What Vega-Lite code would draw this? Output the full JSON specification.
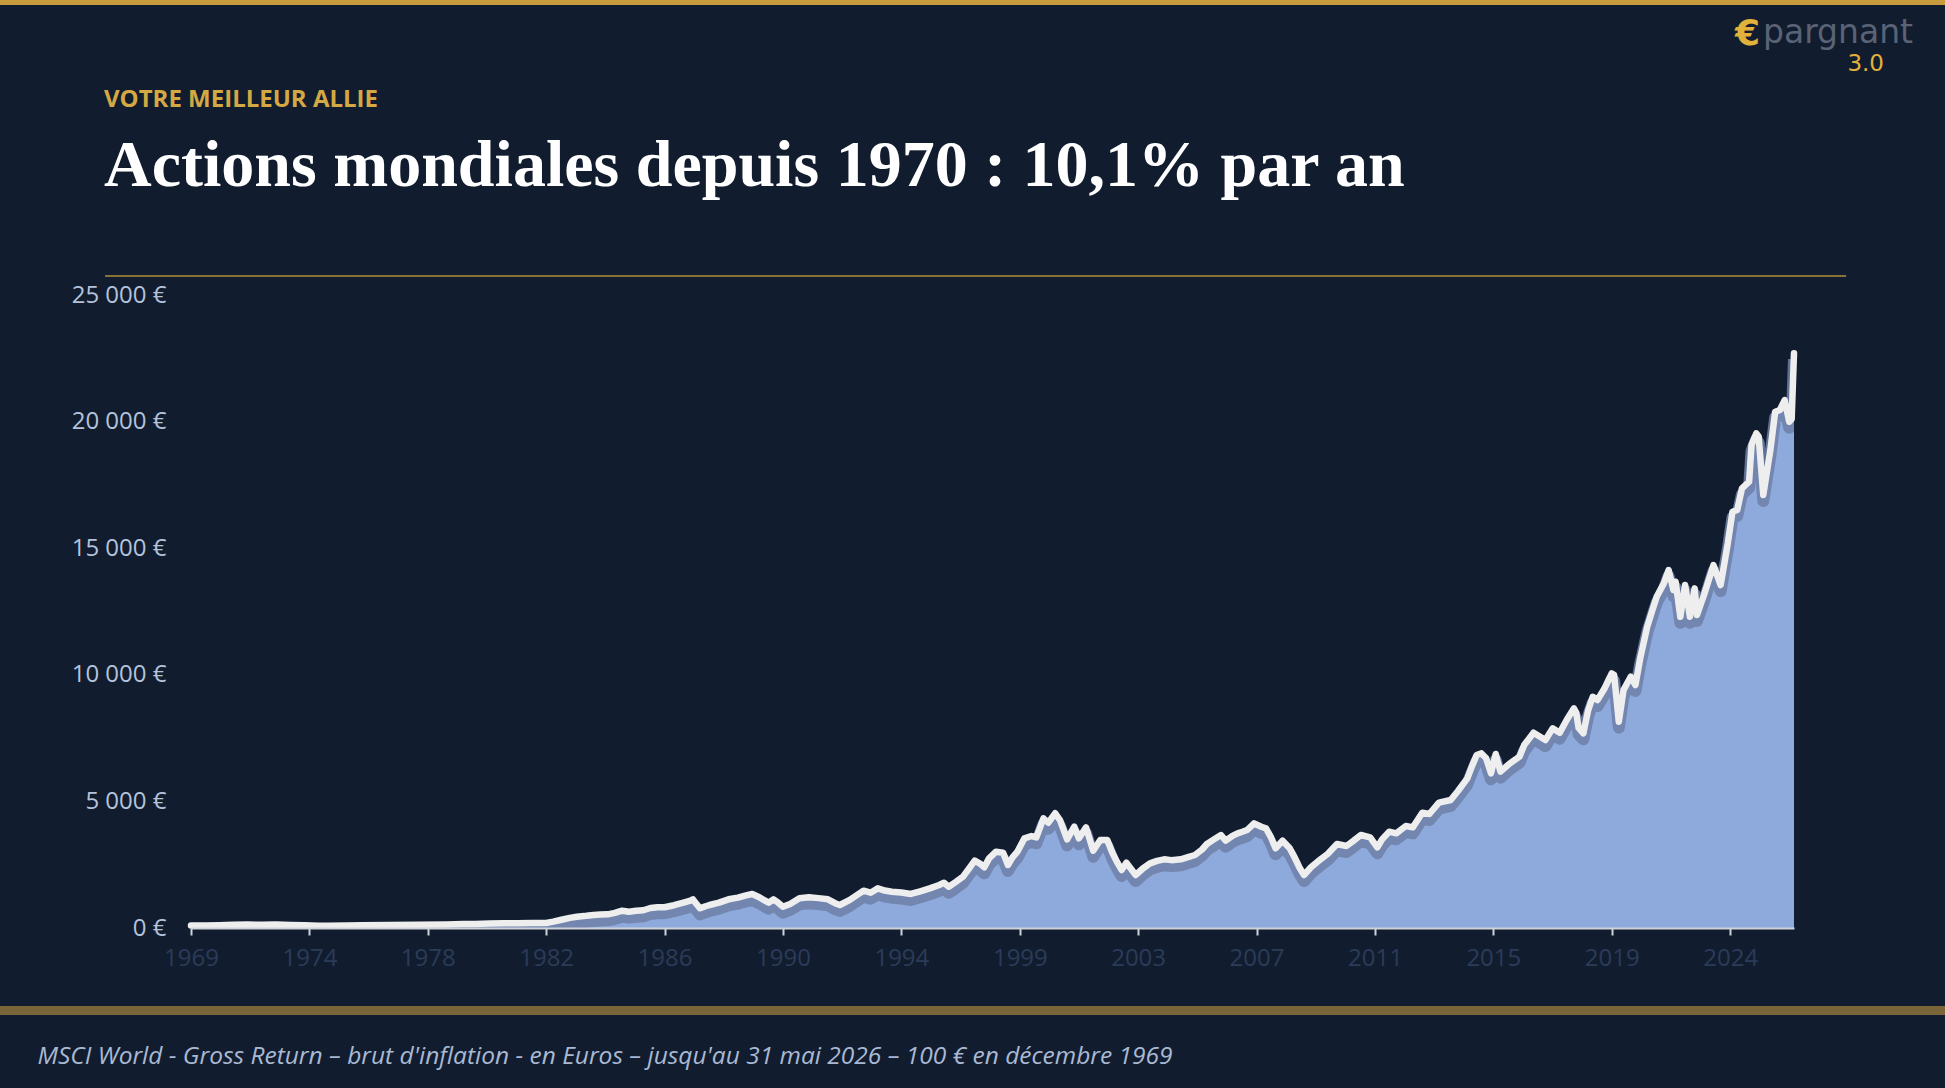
{
  "$schema": "https://vega.github.io/schema/vega-lite/v6.json",
  "width": 1603,
  "height": 633,
  "autosize": {"type": "none"},
  "padding": {"left": 191, "top": 295, "right": 151, "bottom": 160},
  "background": "#111d2f",
  "config": {"view": {"stroke": null}},
  "title": {
    "text": "VOTRE MEILLEUR ALLIE",
    "subtitle": "Actions mondiales depuis 1970 : 10,1% par an",
    "anchor": "start",
    "frame": "group",
    "dx": -87,
    "offset": -200,
    "color": "#d4a843",
    "font": "Open Sans",
    "fontSize": 24,
    "fontWeight": "bold",
    "subtitleColor": "#ffffff",
    "subtitleFont": "Liberation Serif",
    "subtitleFontSize": 66,
    "subtitleFontWeight": "bold",
    "subtitlePadding": 22
  },
  "layer": [
    {
      "data": {
        "values": [
          {"date": "1969-12-01", "value": 100},
          {"date": "1970-06-01", "value": 95},
          {"date": "1970-12-01", "value": 110},
          {"date": "1971-06-01", "value": 125},
          {"date": "1971-12-01", "value": 135},
          {"date": "1972-06-01", "value": 130},
          {"date": "1972-12-01", "value": 140},
          {"date": "1973-06-01", "value": 120},
          {"date": "1973-12-01", "value": 110},
          {"date": "1974-06-01", "value": 90},
          {"date": "1974-10-01", "value": 85},
          {"date": "1975-06-01", "value": 100},
          {"date": "1975-12-01", "value": 105},
          {"date": "1976-12-01", "value": 120},
          {"date": "1977-12-01", "value": 125},
          {"date": "1978-12-01", "value": 135},
          {"date": "1979-07-01", "value": 155},
          {"date": "1979-12-01", "value": 160},
          {"date": "1980-06-01", "value": 175},
          {"date": "1980-12-01", "value": 185},
          {"date": "1981-06-01", "value": 190},
          {"date": "1981-12-01", "value": 195},
          {"date": "1982-06-01", "value": 200},
          {"date": "1982-09-01", "value": 250},
          {"date": "1982-12-01", "value": 316},
          {"date": "1983-04-01", "value": 400},
          {"date": "1983-07-01", "value": 447},
          {"date": "1983-11-01", "value": 480},
          {"date": "1984-02-01", "value": 513},
          {"date": "1984-05-01", "value": 530},
          {"date": "1984-08-01", "value": 540},
          {"date": "1984-11-01", "value": 600},
          {"date": "1985-02-01", "value": 684},
          {"date": "1985-05-01", "value": 645},
          {"date": "1985-08-01", "value": 680},
          {"date": "1985-11-01", "value": 700},
          {"date": "1986-02-01", "value": 790},
          {"date": "1986-05-01", "value": 817},
          {"date": "1986-08-01", "value": 820},
          {"date": "1986-12-01", "value": 900},
          {"date": "1987-04-01", "value": 1000},
          {"date": "1987-07-01", "value": 1080},
          {"date": "1987-08-01", "value": 1133},
          {"date": "1987-09-01", "value": 1000},
          {"date": "1987-11-01", "value": 778},
          {"date": "1988-01-01", "value": 850},
          {"date": "1988-03-01", "value": 908},
          {"date": "1988-07-01", "value": 1000},
          {"date": "1988-11-01", "value": 1133},
          {"date": "1989-03-01", "value": 1200},
          {"date": "1989-06-01", "value": 1280},
          {"date": "1989-09-01", "value": 1343},
          {"date": "1989-12-01", "value": 1212},
          {"date": "1990-02-01", "value": 1100},
          {"date": "1990-04-01", "value": 1000},
          {"date": "1990-06-01", "value": 1133},
          {"date": "1990-08-01", "value": 1000},
          {"date": "1990-10-01", "value": 842},
          {"date": "1991-01-01", "value": 950},
          {"date": "1991-05-01", "value": 1172},
          {"date": "1991-09-01", "value": 1212},
          {"date": "1992-01-01", "value": 1180},
          {"date": "1992-05-01", "value": 1133},
          {"date": "1992-08-01", "value": 980},
          {"date": "1992-10-01", "value": 908},
          {"date": "1993-02-01", "value": 1100},
          {"date": "1993-06-01", "value": 1350},
          {"date": "1993-08-01", "value": 1474},
          {"date": "1993-11-01", "value": 1395},
          {"date": "1994-02-01", "value": 1566},
          {"date": "1994-05-01", "value": 1480},
          {"date": "1994-08-01", "value": 1435},
          {"date": "1994-12-01", "value": 1400},
          {"date": "1995-04-01", "value": 1343},
          {"date": "1995-08-01", "value": 1450},
          {"date": "1995-12-01", "value": 1566},
          {"date": "1996-04-01", "value": 1700},
          {"date": "1996-06-01", "value": 1790},
          {"date": "1996-08-01", "value": 1632},
          {"date": "1996-11-01", "value": 1820},
          {"date": "1997-02-01", "value": 2027},
          {"date": "1997-05-01", "value": 2400},
          {"date": "1997-07-01", "value": 2658},
          {"date": "1997-09-01", "value": 2555},
          {"date": "1997-11-01", "value": 2396},
          {"date": "1998-01-01", "value": 2750},
          {"date": "1998-04-01", "value": 3014},
          {"date": "1998-07-01", "value": 2975},
          {"date": "1998-09-01", "value": 2488},
          {"date": "1998-11-01", "value": 2800},
          {"date": "1999-01-01", "value": 3014},
          {"date": "1999-04-01", "value": 3541},
          {"date": "1999-07-01", "value": 3633},
          {"date": "1999-09-01", "value": 3581},
          {"date": "1999-12-01", "value": 4332},
          {"date": "2000-02-01", "value": 4159},
          {"date": "2000-05-01", "value": 4530},
          {"date": "2000-07-01", "value": 4265},
          {"date": "2000-10-01", "value": 3503},
          {"date": "2001-01-01", "value": 4001},
          {"date": "2001-03-01", "value": 3541},
          {"date": "2001-06-01", "value": 3975},
          {"date": "2001-09-01", "value": 3053},
          {"date": "2001-12-01", "value": 3475},
          {"date": "2002-03-01", "value": 3475},
          {"date": "2002-05-01", "value": 3000},
          {"date": "2002-07-01", "value": 2619},
          {"date": "2002-09-01", "value": 2291},
          {"date": "2002-11-01", "value": 2579},
          {"date": "2003-03-01", "value": 2093},
          {"date": "2003-06-01", "value": 2350},
          {"date": "2003-09-01", "value": 2555},
          {"date": "2003-12-01", "value": 2650},
          {"date": "2004-03-01", "value": 2713},
          {"date": "2004-06-01", "value": 2680},
          {"date": "2004-10-01", "value": 2713},
          {"date": "2005-01-01", "value": 2800},
          {"date": "2005-04-01", "value": 2883},
          {"date": "2005-07-01", "value": 3100},
          {"date": "2005-09-01", "value": 3317},
          {"date": "2005-12-01", "value": 3500},
          {"date": "2006-03-01", "value": 3673},
          {"date": "2006-05-01", "value": 3448},
          {"date": "2006-08-01", "value": 3650},
          {"date": "2006-10-01", "value": 3739},
          {"date": "2006-12-01", "value": 3800},
          {"date": "2007-02-01", "value": 3870},
          {"date": "2007-05-01", "value": 4134},
          {"date": "2007-08-01", "value": 4000},
          {"date": "2007-10-01", "value": 3937},
          {"date": "2007-12-01", "value": 3600},
          {"date": "2008-02-01", "value": 3147},
          {"date": "2008-05-01", "value": 3448},
          {"date": "2008-08-01", "value": 3147},
          {"date": "2008-10-01", "value": 2800},
          {"date": "2008-12-01", "value": 2400},
          {"date": "2009-02-01", "value": 2093},
          {"date": "2009-05-01", "value": 2400},
          {"date": "2009-09-01", "value": 2713},
          {"date": "2009-12-01", "value": 2922},
          {"date": "2010-04-01", "value": 3317},
          {"date": "2010-08-01", "value": 3238},
          {"date": "2010-11-01", "value": 3450},
          {"date": "2011-02-01", "value": 3673},
          {"date": "2011-06-01", "value": 3581},
          {"date": "2011-09-01", "value": 3187},
          {"date": "2011-11-01", "value": 3500},
          {"date": "2012-02-01", "value": 3804},
          {"date": "2012-05-01", "value": 3739},
          {"date": "2012-09-01", "value": 4028},
          {"date": "2012-12-01", "value": 3975},
          {"date": "2013-04-01", "value": 4555},
          {"date": "2013-07-01", "value": 4502},
          {"date": "2013-11-01", "value": 4950},
          {"date": "2014-04-01", "value": 5055},
          {"date": "2014-07-01", "value": 5400},
          {"date": "2014-11-01", "value": 5910},
          {"date": "2015-01-01", "value": 6400},
          {"date": "2015-03-01", "value": 6833},
          {"date": "2015-05-01", "value": 6897},
          {"date": "2015-07-01", "value": 6700},
          {"date": "2015-09-01", "value": 6108},
          {"date": "2015-11-01", "value": 6872},
          {"date": "2016-01-01", "value": 6174},
          {"date": "2016-05-01", "value": 6503},
          {"date": "2016-09-01", "value": 6767},
          {"date": "2016-11-01", "value": 7226},
          {"date": "2017-03-01", "value": 7713},
          {"date": "2017-08-01", "value": 7424},
          {"date": "2017-11-01", "value": 7885},
          {"date": "2018-02-01", "value": 7713},
          {"date": "2018-05-01", "value": 8214},
          {"date": "2018-08-01", "value": 8676},
          {"date": "2018-09-01", "value": 8500},
          {"date": "2018-10-01", "value": 7900},
          {"date": "2018-12-01", "value": 7688},
          {"date": "2019-02-01", "value": 8600},
          {"date": "2019-04-01", "value": 9134},
          {"date": "2019-06-01", "value": 9004},
          {"date": "2019-09-01", "value": 9466},
          {"date": "2019-12-01", "value": 10058},
          {"date": "2020-01-01", "value": 9991},
          {"date": "2020-03-01", "value": 8147},
          {"date": "2020-05-01", "value": 9399},
          {"date": "2020-08-01", "value": 9924},
          {"date": "2020-10-01", "value": 9596},
          {"date": "2020-12-01", "value": 10650},
          {"date": "2021-03-01", "value": 11898},
          {"date": "2021-05-01", "value": 12500},
          {"date": "2021-07-01", "value": 13083},
          {"date": "2021-10-01", "value": 13612},
          {"date": "2021-12-01", "value": 14137},
          {"date": "2022-02-01", "value": 13348},
          {"date": "2022-03-01", "value": 13676},
          {"date": "2022-05-01", "value": 12293},
          {"date": "2022-07-01", "value": 13545},
          {"date": "2022-09-01", "value": 12293},
          {"date": "2022-11-01", "value": 13415},
          {"date": "2022-12-01", "value": 12360},
          {"date": "2023-03-01", "value": 13150},
          {"date": "2023-07-01", "value": 14335},
          {"date": "2023-10-01", "value": 13545},
          {"date": "2024-01-01", "value": 15192},
          {"date": "2024-03-01", "value": 16440},
          {"date": "2024-05-01", "value": 16507},
          {"date": "2024-07-01", "value": 17364},
          {"date": "2024-10-01", "value": 17625},
          {"date": "2024-11-01", "value": 19074},
          {"date": "2025-01-01", "value": 19536},
          {"date": "2025-02-01", "value": 19402},
          {"date": "2025-04-01", "value": 17100},
          {"date": "2025-07-01", "value": 18876},
          {"date": "2025-09-01", "value": 20389},
          {"date": "2025-11-01", "value": 20456},
          {"date": "2026-01-01", "value": 20851},
          {"date": "2026-03-01", "value": 19995},
          {"date": "2026-04-01", "value": 20100},
          {"date": "2026-05-01", "value": 22700}
        ]
      },
      "encoding": {
        "x": {
          "field": "date",
          "type": "temporal",
          "scale": {"domain": [{"year": 1969, "month": 12, "date": 1}, {"year": 2026, "month": 5, "date": 1}]},
          "axis": {
            "values": [
              {"year": 1969, "month": 12, "date": 1},
              {"year": 1974, "month": 2, "date": 1},
              {"year": 1978, "month": 4, "date": 1},
              {"year": 1982, "month": 6, "date": 1},
              {"year": 1986, "month": 8, "date": 1},
              {"year": 1990, "month": 10, "date": 1},
              {"year": 1994, "month": 12, "date": 1},
              {"year": 1999, "month": 2, "date": 1},
              {"year": 2003, "month": 4, "date": 1},
              {"year": 2007, "month": 6, "date": 1},
              {"year": 2011, "month": 8, "date": 1},
              {"year": 2015, "month": 10, "date": 1},
              {"year": 2019, "month": 12, "date": 1},
              {"year": 2024, "month": 2, "date": 1}
            ],
            "format": "%Y",
            "labelFont": "Open Sans",
            "labelFontSize": 24,
            "labelColor": "#2b3b58",
            "labelPadding": 11,
            "labelFlush": false,
            "labelOverlap": false,
            "tickSize": 7,
            "tickWidth": 2,
            "tickColor": "#cfd3da",
            "domainColor": "#cfd3da",
            "domainWidth": 2,
            "grid": false,
            "zindex": 1,
            "title": "MSCI World - Gross Return – brut d'inflation - en Euros – jusqu'au 31 mai 2026 – 100 € en décembre 1969",
            "titleFont": "Open Sans",
            "titleFontSize": 24.5,
            "titleFontStyle": "italic",
            "titleFontWeight": "normal",
            "titleColor": "#a9b9d3",
            "titleAlign": "left",
            "titleBaseline": "top",
            "titleX": -154,
            "titleY": 116
          }
        },
        "y": {
          "field": "value",
          "type": "quantitative",
          "scale": {"domain": [0, 25000], "nice": false},
          "axis": {
            "values": [0, 5000, 10000, 15000, 20000, 25000],
            "labelExpr": "datum.value == 0 ? '0 €' : format(datum.value / 1000, 'd') + ' 000 €'",
            "labelFont": "Open Sans",
            "labelFontSize": 24,
            "labelColor": "#b4c3da",
            "labelPadding": 25,
            "ticks": false,
            "domain": false,
            "grid": false,
            "title": null
          }
        }
      },
      "layer": [
        {"mark": {"type": "area", "color": "#8eaadc"}},
        {"mark": {"type": "line", "color": "#6e80a8", "strokeWidth": 12, "yOffset": 6, "opacity": 0.85, "clip": true, "strokeJoin": "round"}},
        {"mark": {"type": "line", "color": "#eeeeee", "strokeWidth": 6.5, "strokeJoin": "round", "strokeCap": "round"}}
      ]
    },
    {
      "data": {"values": [{}]},
      "mark": {"type": "rule", "color": "#c89b3c", "strokeWidth": 6},
      "encoding": {
        "x": {"datum": {"year": 1950, "month": 1, "date": 1}, "type": "temporal"},
        "x2": {"datum": {"year": 2045, "month": 1, "date": 1}},
        "y": {"datum": 36571, "type": "quantitative"}
      }
    },
    {
      "data": {"values": [{}]},
      "mark": {"type": "rule", "color": "#8a7138", "strokeWidth": 2},
      "encoding": {
        "x": {"datum": {"year": 1966, "month": 11, "date": 22}, "type": "temporal"},
        "x2": {"datum": {"year": 2028, "month": 3, "date": 1}},
        "y": {"datum": 25750, "type": "quantitative"}
      }
    },
    {
      "data": {"values": [{}]},
      "mark": {"type": "rule", "color": "#7a6538", "strokeWidth": 9},
      "encoding": {
        "x": {"datum": {"year": 1950, "month": 1, "date": 1}, "type": "temporal"},
        "x2": {"datum": {"year": 2045, "month": 1, "date": 1}},
        "y": {"datum": -3258, "type": "quantitative"}
      }
    },
    {
      "data": {"values": [{}]},
      "encoding": {
        "x": {"datum": {"year": 2025, "month": 3, "date": 28}, "type": "temporal"},
        "y": {"datum": 34940, "type": "quantitative"}
      },
      "layer": [
        {"mark": {"type": "text", "text": "pargnant", "align": "left", "baseline": "alphabetic", "font": "DejaVu Sans", "fontSize": 33, "color": "#5a6275"}},
        {"mark": {"type": "text", "text": "€", "align": "right", "baseline": "alphabetic", "dx": -3, "dy": 2, "font": "DejaVu Sans", "fontSize": 36, "fontWeight": "bold", "color": "#e2b13c"}},
        {"mark": {"type": "text", "text": "3.0", "align": "right", "baseline": "alphabetic", "dx": 121, "dy": 28, "font": "DejaVu Sans", "fontSize": 23, "color": "#e2b13c"}}
      ]
    }
  ]
}
